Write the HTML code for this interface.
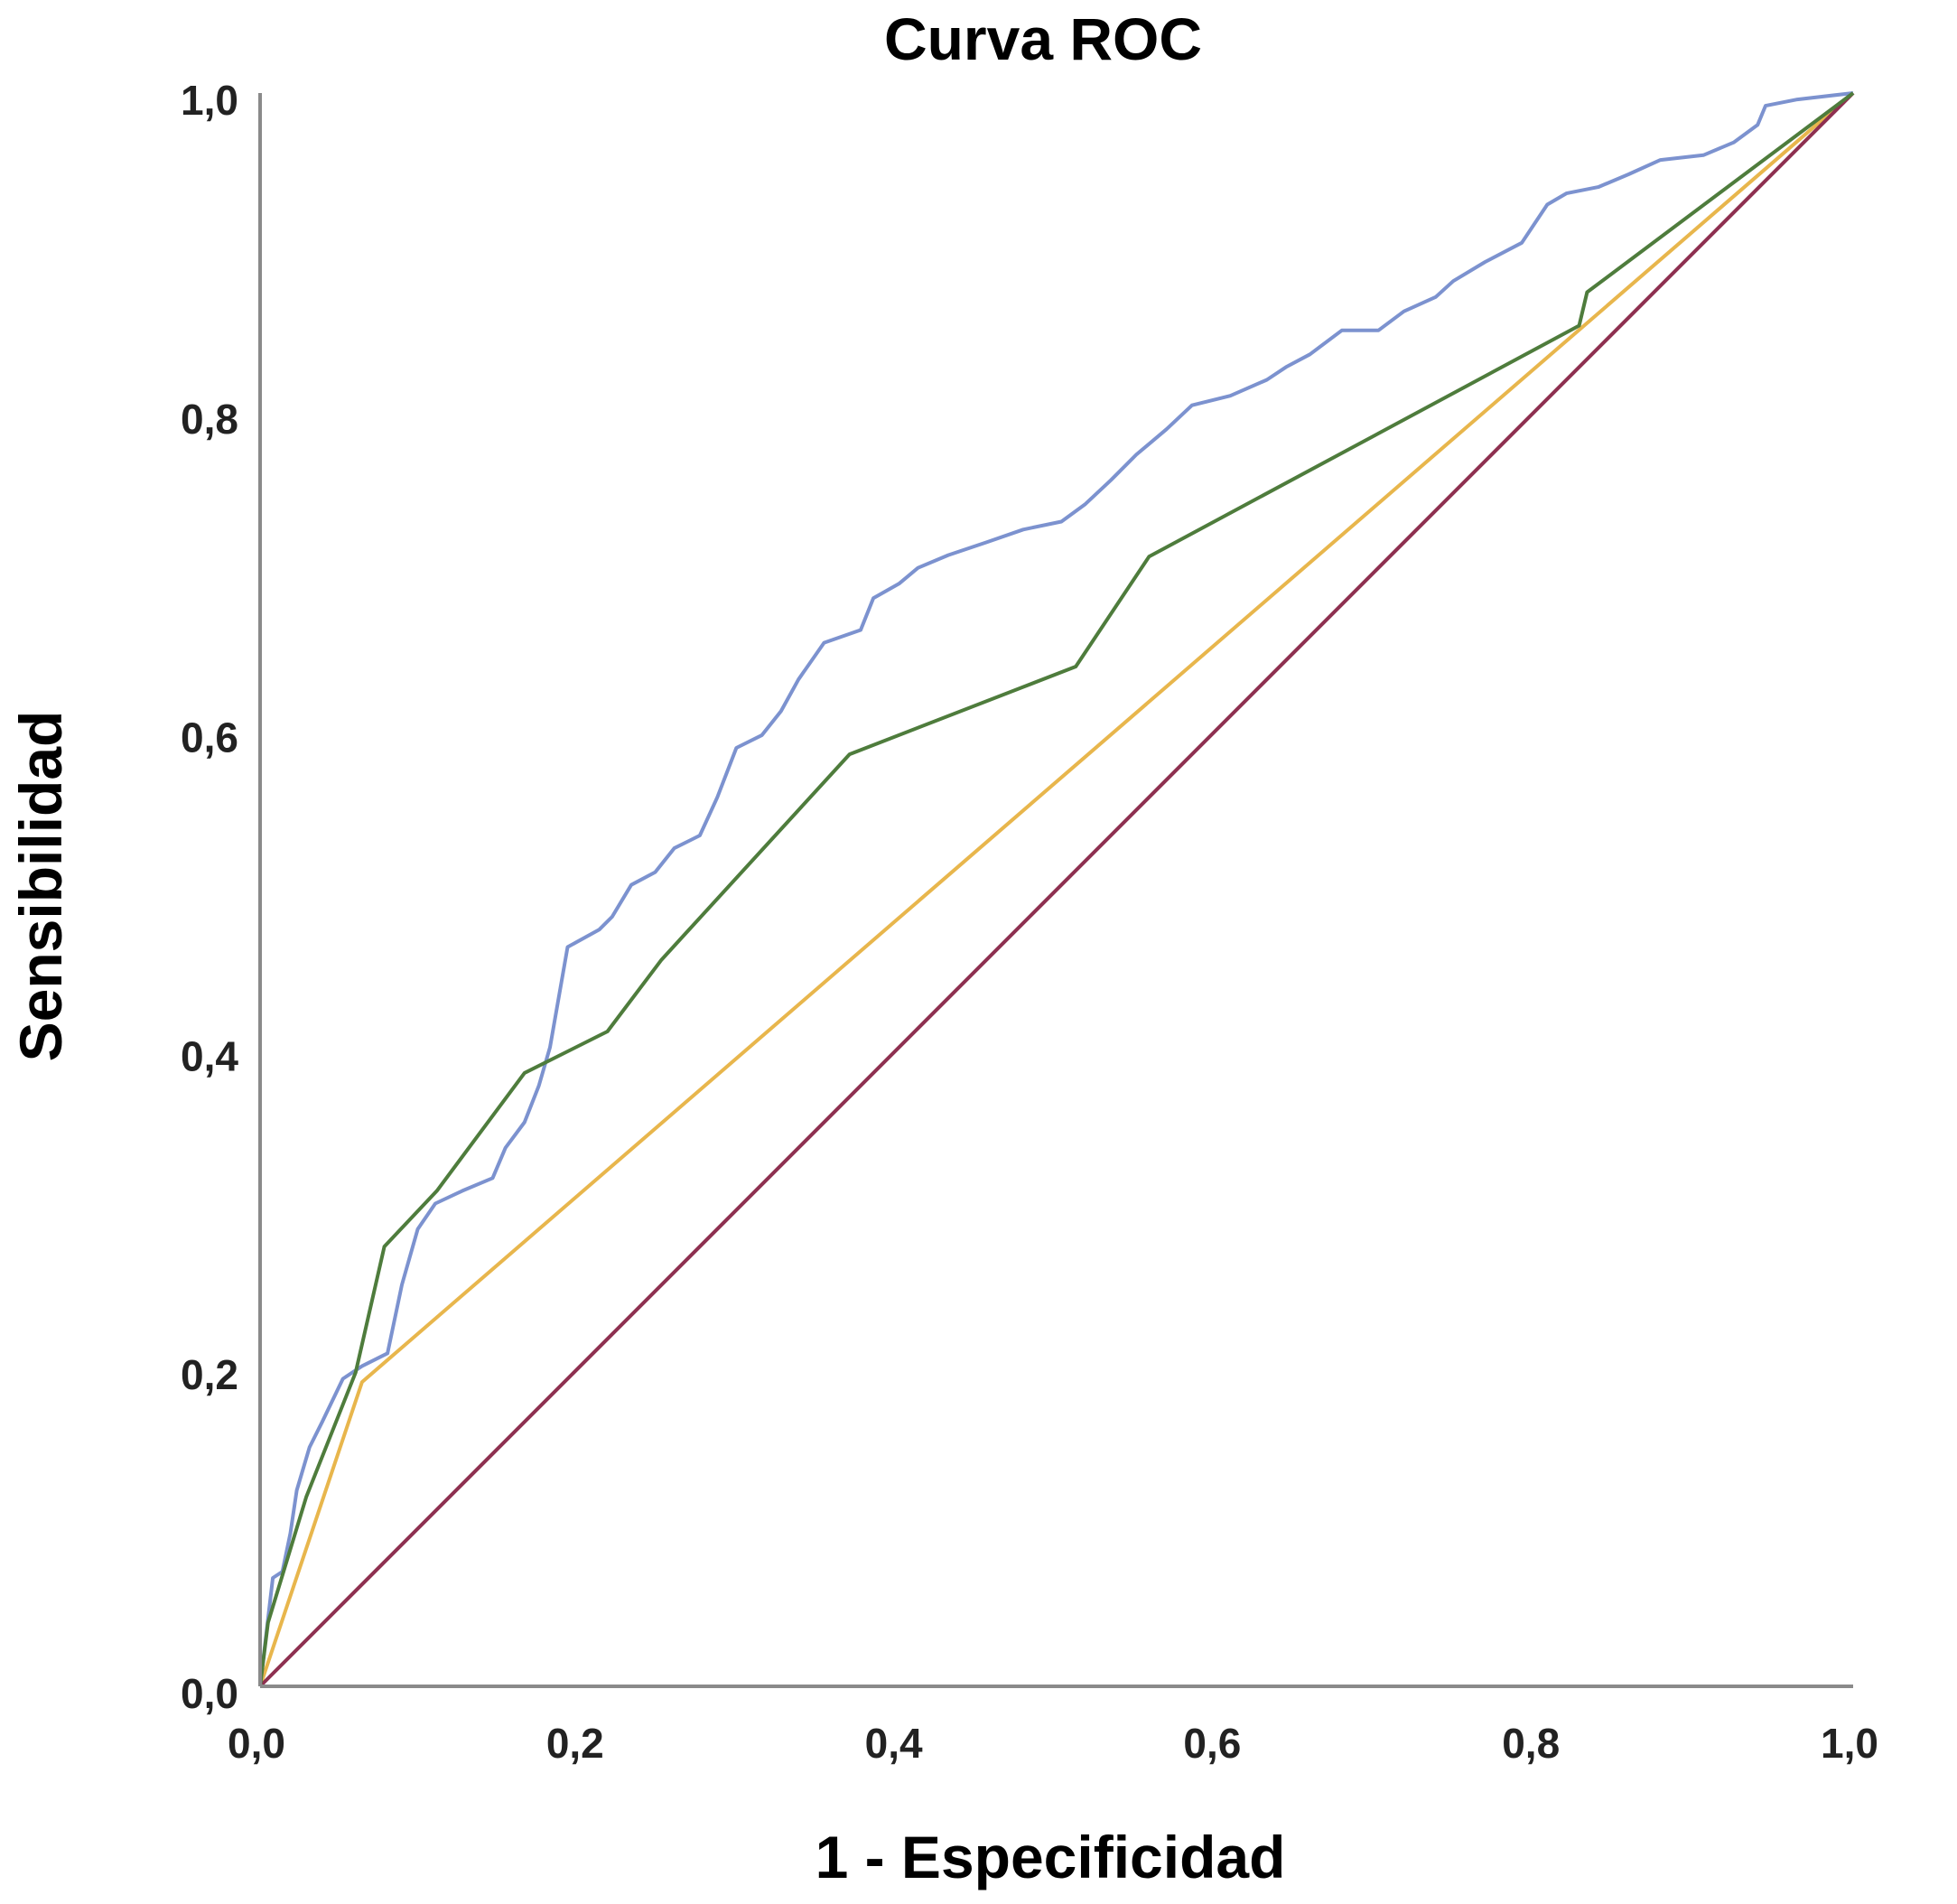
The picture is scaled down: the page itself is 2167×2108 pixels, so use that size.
<!DOCTYPE html>
<html><head><meta charset="utf-8"><style>
html,body{margin:0;padding:0;background:#fff;}
svg{display:block;}
text{font-family:"Liberation Sans",sans-serif;}
</style></head><body>
<svg id="chart" width="2167" height="2108" viewBox="0 0 2167 2108">
<text x="1155" y="66" font-size="66" font-weight="bold" text-anchor="middle">Curva ROC</text>
<text x="1163" y="2079" font-size="66" font-weight="bold" text-anchor="middle">1 - Especificidad</text>
<text transform="translate(68,981) rotate(-90)" font-size="66" font-weight="bold" text-anchor="middle">Sensibilidad</text>
<g id="ticks"></g>
<g id="series"></g>
<line x1="288" y1="1867" x2="2052" y2="1867" stroke="#8a8a8a" stroke-width="4"/>
<line x1="288" y1="1867" x2="288" y2="103" stroke="#8a8a8a" stroke-width="4"/>
</svg>
<script>
const tickValues = [0, 0.2, 0.4, 0.6, 0.8, 1.0];
const tickLabels = ["0,0", "0,2", "0,4", "0,6", "0,8", "1,0"];
const redFpr = [0, 1];
const redTpr = [0, 1];
const yellowFpr = [0, 0.064, 1];
const yellowTpr = [0, 0.191, 1];
const greenFpr = [0, 0.005, 0.029, 0.06, 0.078, 0.111, 0.166, 0.218, 0.252, 0.37, 0.512, 0.558, 0.828, 0.833, 1];
const greenTpr = [0, 0.04, 0.119, 0.197, 0.276, 0.311, 0.385, 0.411, 0.456, 0.585, 0.64, 0.709, 0.854, 0.875, 1];
const blueFpr = [0,0.008,0.014,0.019,0.023,0.031,0.039,0.052,0.064,0.08,0.089,0.099,0.11,0.127,0.146,0.154,0.166,0.175,0.182,0.193,0.213,0.221,0.233,0.248,0.26,0.276,0.287,0.299,0.315,0.327,0.338,0.354,0.377,0.385,0.401,0.413,0.432,0.456,0.479,0.503,0.518,0.534,0.55,0.569,0.585,0.609,0.632,0.644,0.659,0.679,0.702,0.718,0.738,0.749,0.769,0.792,0.808,0.82,0.84,0.859,0.879,0.906,0.925,0.94,0.945,0.965,1];
const blueTpr = [0,0.068,0.072,0.096,0.123,0.15,0.166,0.193,0.201,0.209,0.252,0.287,0.303,0.311,0.319,0.338,0.354,0.377,0.401,0.464,0.475,0.483,0.503,0.511,0.526,0.534,0.558,0.589,0.597,0.612,0.632,0.655,0.663,0.683,0.692,0.702,0.71,0.718,0.726,0.731,0.742,0.757,0.773,0.789,0.804,0.81,0.82,0.828,0.836,0.851,0.851,0.863,0.872,0.882,0.894,0.906,0.93,0.937,0.941,0.949,0.958,0.961,0.969,0.98,0.992,0.996,1];

const X0 = 288, Y0 = 1867, W = 1764, H = 1764;
function xs(v){ return X0 + v * W; }
function ys(v){ return Y0 - v * H; }
const NS = "http://www.w3.org/2000/svg";
const ticks = document.getElementById('ticks');
tickValues.forEach((v, i) => {
  const ty = document.createElementNS(NS, 'text');
  ty.setAttribute('x', 264);
  ty.setAttribute('y', ys(v) + 24);
  ty.setAttribute('font-size', '46');
  ty.setAttribute('font-weight', 'bold');
  ty.setAttribute('text-anchor', 'end');
  ty.setAttribute('fill', '#222');
  ty.textContent = tickLabels[i];
  
  
  ticks.appendChild(ty);
  const tx = document.createElementNS(NS, 'text');
  tx.setAttribute('x', xs(v) - 4);
  tx.setAttribute('y', 1946);
  tx.setAttribute('font-size', '46');
  tx.setAttribute('font-weight', 'bold');
  tx.setAttribute('text-anchor', 'middle');
  tx.setAttribute('fill', '#222');
  tx.textContent = tickLabels[i];
  
  
  ticks.appendChild(tx);
});
const series = document.getElementById('series');
function drawLine(fx, ty, color, name){
  const pts = fx.map((f, i) => xs(f).toFixed(1) + ',' + ys(ty[i]).toFixed(1)).join(' ');
  const pl = document.createElementNS(NS, 'polyline');
  pl.setAttribute('points', pts);
  pl.setAttribute('fill', 'none');
  pl.setAttribute('stroke', color);
  pl.setAttribute('stroke-width', '4');
  pl.setAttribute('stroke-linejoin', 'round');
  
  
  series.appendChild(pl);
}
drawLine(yellowFpr, yellowTpr, '#e8b64c', 'yellow-roc-line');
drawLine(redFpr, redTpr, '#8e3050', 'reference-diagonal-line');
drawLine(blueFpr, blueTpr, '#7c92cf', 'blue-roc-line');
drawLine(greenFpr, greenTpr, '#4e7c3c', 'green-roc-line');
</script>
</body></html>
